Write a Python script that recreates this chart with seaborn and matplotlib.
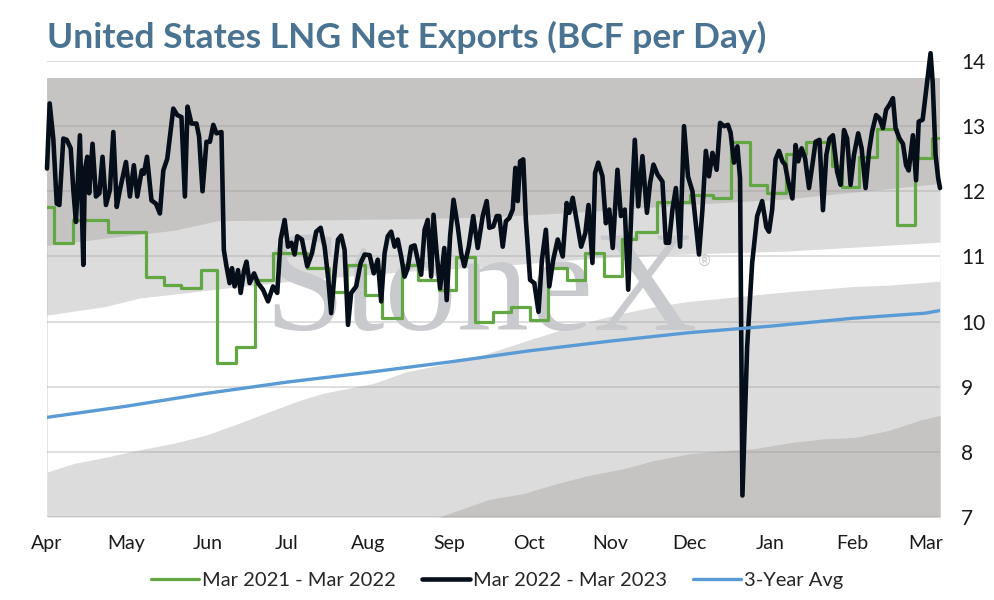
import matplotlib
matplotlib.use('Agg')
import matplotlib.pyplot as plt
import matplotlib.dates as mdates
import numpy as np
import pandas as pd
import seaborn as sns

START = pd.Timestamp('2022-04-01')
END_DAY = 339.4

# Mar 2022 - Mar 2023 (days since Apr 1, BCF/d)
black_days = [0, 1, 2.4, 3.7, 4.7, 6.2, 7.5, 9, 10, 11, 12.5, 13.8, 14.4, 15.3, 16, 17.3, 18.6, 19.9,
              21.1, 22.4, 23.9, 25.2, 26.5, 27.7, 30, 31.5, 33, 34.3, 36, 36.8, 38, 39.7, 41.4, 42.9,
              44.2, 45.7, 46.7, 48, 49.5, 51.1, 52.4, 53.4, 54.9, 56.8, 57.8, 59.1, 60.6, 61.9, 63.2,
              64.4, 66.3, 67.2, 68.2, 69.4, 70.3, 71.3, 72.6, 73.6, 74.9, 75.8, 77, 78.7, 80.2, 82.1,
              84, 85.9, 87.5, 88.8, 90.3, 91.6, 92.9, 94.1, 95.1, 96.9, 98.9, 100.7, 102.3, 104, 105.5,
              106.8, 108, 109.5, 110.6, 111.8, 113.1, 114.4, 115.6, 117.5, 119.2, 120.7, 122.6, 124.2,
              125.7, 127, 128.3, 129.5, 130.8, 132.1, 133.3, 134.6, 135.9, 137.1, 138.4, 139.7, 140.9,
              142.2, 143.5, 144.7, 146, 146.9, 148.1, 149.4, 151, 151.9, 153.2, 154.5, 156.1, 157.4,
              158.6, 160.3, 162, 163.7, 165.6, 167.1, 168.1, 169.6, 170.9, 171.9, 173.2, 174.4, 175.7,
              177, 178, 178.9, 179.8, 181, 182, 183.6, 185.2, 186.8, 188.1, 189.6, 190.9, 192.4, 194.1,
              196, 197.5, 198.5, 199.8, 201, 203, 204.6, 205.8, 207.3, 208.3, 209.5, 211.1, 212.4,
              213.7, 215, 216.8, 218.1, 219.6, 220.9, 222.1, 223.4, 224.7, 226.3, 228, 229.2, 230.5,
              232, 233.9, 235.2, 236.4, 237.7, 239, 240.6, 242.1, 243.6, 245.3, 247.8, 249.1, 250.4,
              251.6, 252.9, 254.5, 255.8, 257.3, 258.8, 259.8, 261.1, 262.4, 263.4, 264.3, 266.1, 268,
              269.9, 271.8, 273.4, 274.4, 275.6, 276.9, 278.2, 279.5, 280.5, 281.7, 283.3, 284.5,
              285.5, 286.8, 288.1, 289.6, 290.9, 292.1, 293.6, 294.9, 296.2, 297.4, 298.7, 300.3,
              301.6, 302.9, 304.1, 305.4, 306.7, 308.3, 309.6, 311.1, 312.4, 313.6, 315.1, 316.4,
              317.7, 318.9, 320.2, 321.5, 322.5, 324, 325.3, 326.5, 327.5, 329.1, 330.3, 331.3, 332.8,
              334.5, 335.8, 336.6, 337.7, 338.7, 339.4]
black_vals = [12.35, 13.35, 12.8, 11.81, 11.79, 12.81, 12.79, 12.66, 12.02, 11.53, 12.86, 10.87, 12.33,
              12.53, 11.97, 12.73, 11.92, 11.97, 12.53, 11.79, 12.02, 12.91, 11.76, 12.02, 12.45, 11.92,
              12.40, 11.92, 12.32, 12.27, 12.53, 11.86, 11.81, 11.66, 12.32, 12.50, 12.84, 13.27, 13.17,
              13.14, 11.92, 13.30, 13.04, 13.04, 12.84, 12.0, 12.76, 12.76, 13.02, 12.89, 12.91, 11.10,
              10.85, 10.59, 10.82, 10.54, 10.79, 10.44, 10.79, 10.92, 10.59, 10.74, 10.59, 10.49, 10.31,
              10.54, 10.44, 11.26, 11.56, 11.15, 11.21, 11.03, 11.31, 11.26, 10.85, 11.05, 11.38, 11.44,
              11.15, 10.69, 10.13, 10.85, 11.26, 11.32, 11.10, 9.95, 10.44, 10.54, 10.90, 11.03, 11.02,
              10.74, 10.95, 10.31, 11.05, 11.31, 11.38, 11.15, 11.26, 11.0, 10.69, 10.82, 11.15, 11.17,
              10.95, 10.72, 11.41, 11.56, 10.69, 11.64, 11.05, 10.51, 11.13, 10.33, 11.31, 11.87, 11.46,
              11.05, 10.85, 11.15, 11.62, 11.13, 11.62, 11.85, 11.44, 11.46, 11.62, 11.62, 11.15, 11.54,
              11.59, 11.72, 12.36, 11.85, 12.46, 12.49, 11.56, 10.64, 10.59, 10.15, 10.95, 11.41, 10.54,
              10.95, 11.26, 11.0, 11.82, 11.67, 11.9, 11.62, 11.15, 11.36, 11.79, 10.9, 12.28, 12.44,
              12.23, 11.51, 11.72, 11.13, 12.33, 11.62, 11.72, 10.49, 11.72, 12.79, 11.77, 12.54, 11.67,
              12.13, 12.41, 12.26, 12.15, 11.21, 11.21, 11.72, 12.05, 11.15, 13.0, 12.23, 12.0, 11.03,
              11.72, 12.62, 12.23, 12.59, 12.33, 13.05, 13.0, 13.02, 12.9, 12.44, 12.69, 12.2, 7.33,
              9.62, 10.9, 11.62, 11.85, 11.45, 11.38, 11.72, 12.49, 12.62, 12.46, 12.41, 12.15, 11.89,
              12.71, 12.46, 12.66, 12.51, 12.05, 12.41, 12.76, 12.79, 11.71, 12.56, 12.81, 12.86, 12.3,
              12.10, 12.94, 12.81, 12.1, 12.56, 12.89, 12.66, 12.05, 12.61, 12.92, 13.17, 13.12, 12.97,
              13.25, 13.33, 13.43, 12.97, 12.81, 12.73, 12.40, 12.32, 12.86, 12.17, 13.07, 13.1, 13.68,
              14.12, 13.68, 12.56, 12.2, 12.05]

# Mar 2021 - Mar 2022, weekly steps (day the value starts, value)
green_days = [0, 2.5, 10, 23, 37.5, 44.5, 51, 58.5, 64.5, 72, 79, 86, 99, 107, 114, 121, 127.5, 135,
              141, 149, 155.5, 162.5, 169.5, 176.5, 183.5, 190.5, 197.5, 204.5, 211.5, 218.5, 224,
              232, 244.5, 253, 260, 267, 273.5, 281, 288.5, 298.5, 302, 308.5, 315.5, 323, 330,
              336.5, 339.4]
green_vals = [11.76, 11.2, 11.56, 11.38, 10.69, 10.56, 10.51, 10.79, 9.36, 9.61, 10.64, 11.05, 10.82,
              10.46, 10.87, 10.41, 10.05, 10.87, 10.64, 10.48, 10.99, 10.0, 10.14, 10.23, 10.03, 10.82,
              10.64, 11.05, 10.70, 11.27, 11.38, 11.84, 11.95, 11.9, 12.76, 12.1, 11.98, 12.57, 12.75,
              12.39, 12.06, 12.53, 12.96, 11.48, 12.51, 12.82, 12.82]

# 3-year average
avg_days = [0, 30, 61, 91, 122, 153, 183, 214, 244, 275, 306, 334, 339.4]
avg_vals = [8.53, 8.70, 8.90, 9.07, 9.22, 9.38, 9.55, 9.70, 9.83, 9.93, 10.05, 10.13, 10.17]

# shaded range bands (boundaries from top to bottom)
band_top = 13.74
band_bottom = 7.0
a_days = [0, 22, 48, 65, 100, 140, 170, 210, 245, 280, 310, 339.4]
a_vals = [11.17, 11.28, 11.40, 11.55, 11.56, 11.58, 11.61, 11.70, 11.80, 11.88, 12.0, 12.12]
b_days = [0, 22, 35, 48, 65, 100, 140, 170, 210, 245, 280, 310, 339.4]
b_vals = [10.1, 10.23, 10.36, 10.42, 10.5, 10.65, 10.78, 10.85, 10.98, 11.04, 11.08, 11.15, 11.22]
c_days = [0, 10, 22.6, 35, 48, 60.6, 73, 86, 96, 105, 117.5, 124, 136.5, 149, 162, 168, 181, 193.5,
          206, 219, 231, 244, 257, 269, 282, 295, 307, 320, 339.4]
c_vals = [7.69, 7.82, 7.92, 8.03, 8.13, 8.26, 8.44, 8.64, 8.79, 8.9, 9.0, 9.05, 9.23, 9.33, 9.44, 9.52,
          9.69, 9.85, 10.0, 10.13, 10.23, 10.31, 10.36, 10.41, 10.46, 10.5, 10.54, 10.56, 10.62]
d_days = [149, 168, 181, 193.5, 206, 219, 231, 244, 257, 269, 282, 295, 307, 320, 332, 339.4]
d_vals = [7.0, 7.27, 7.36, 7.51, 7.64, 7.74, 7.87, 7.97, 8.02, 8.05, 8.14, 8.2, 8.22, 8.33, 8.49, 8.56]

month_labels = ['Apr', 'May', 'Jun', 'Jul', 'Aug', 'Sep', 'Oct', 'Nov', 'Dec', 'Jan', 'Feb', 'Mar']

DARK = '#c5c4c2'
LIGHT = '#dcdcdc'


def to_dates(days):
    return START + pd.to_timedelta(np.asarray(days, dtype=float), unit='D')


sns.set_theme(style='white')
plt.rcParams['font.family'] = ['Lato', 'DejaVu Sans']

fig, ax = plt.subplots(figsize=(9.94, 6.0), dpi=100)
fig.subplots_adjust(left=0.0473, right=0.9457, bottom=0.1383, top=0.8983)

# bands, painted top to bottom
ax.fill_between(to_dates([0, END_DAY]), band_bottom, band_top, color=DARK, lw=0, zorder=1)
ax.fill_between(to_dates(a_days), band_bottom, a_vals, color=LIGHT, lw=0, zorder=1)
ax.fill_between(to_dates(b_days), band_bottom, b_vals, color='white', lw=0, zorder=1)
ax.fill_between(to_dates(c_days), band_bottom, c_vals, color=LIGHT, lw=0, zorder=1)
ax.fill_between(to_dates(d_days), band_bottom, d_vals, color=DARK, lw=0, zorder=1)

for v in range(7, 15):
    ax.axhline(v, color='#9a9a9a', alpha=0.35, lw=1.3, zorder=1.5)

# watermark
wx = mdates.date2num(START + pd.Timedelta(days=165))
ax.text(wx, 9.87, 'StoneX', family='Liberation Serif', fontsize=104, color='#c9cacd',
        ha='center', va='baseline', zorder=2)
ax.text(mdates.date2num(START + pd.Timedelta(days=250)), 10.92, '®', family='DejaVu Sans',
        fontsize=11, color='#c9cacd', ha='center', va='center', zorder=2)

green = pd.DataFrame({'date': to_dates(green_days), 'val': green_vals})
black = pd.DataFrame({'date': to_dates(black_days), 'val': black_vals})
avg = pd.DataFrame({'date': to_dates(avg_days), 'val': avg_vals})

sns.lineplot(data=green, x='date', y='val', ax=ax, color='#62a744', lw=2.3, estimator=None,
             drawstyle='steps-post', label='Mar 2021 - Mar 2022', zorder=3)
sns.lineplot(data=black, x='date', y='val', ax=ax, color='#060e1a', lw=3.3, estimator=None,
             label='Mar 2022 - Mar 2023', zorder=4, clip_on=False, solid_joinstyle='round')
sns.lineplot(data=avg, x='date', y='val', ax=ax, color='#5b9bd5', lw=2.4, estimator=None,
             label='3-Year Avg', zorder=5)

ax.set_xlim(to_dates([0])[0], to_dates([END_DAY])[0])
ax.set_ylim(7, 14)
ax.set_xlabel('')
ax.set_ylabel('')
ax.xaxis.set_major_locator(mdates.MonthLocator())
ax.set_xticks(ax.get_xticks())
ax.set_xticklabels(month_labels)
ax.yaxis.tick_right()
ax.set_yticks(range(7, 15))
ax.tick_params(axis='x', length=0, labelsize=14, pad=13, colors='#1a1a1a')
ax.tick_params(axis='y', length=0, labelsize=15, pad=15, colors='#1a1a1a')
for side in ['top', 'bottom', 'left', 'right']:
    ax.spines[side].set_visible(False)

handles, labels = ax.get_legend_handles_labels()
ax.get_legend().remove()
fig.legend(handles, labels, loc='center', bbox_to_anchor=(0.5, 1 - 580 / 600), ncol=3,
           frameon=False, fontsize=14.5, handlelength=2.4, handletextpad=0.12, columnspacing=1.3)

fig.text(47 / 994, 1 - 48 / 600, 'United States LNG Net Exports (BCF per Day)', fontsize=25.5,
         fontweight='bold', color='#4a7391', ha='left', va='baseline')

fig.savefig('out.png', dpi=100)
